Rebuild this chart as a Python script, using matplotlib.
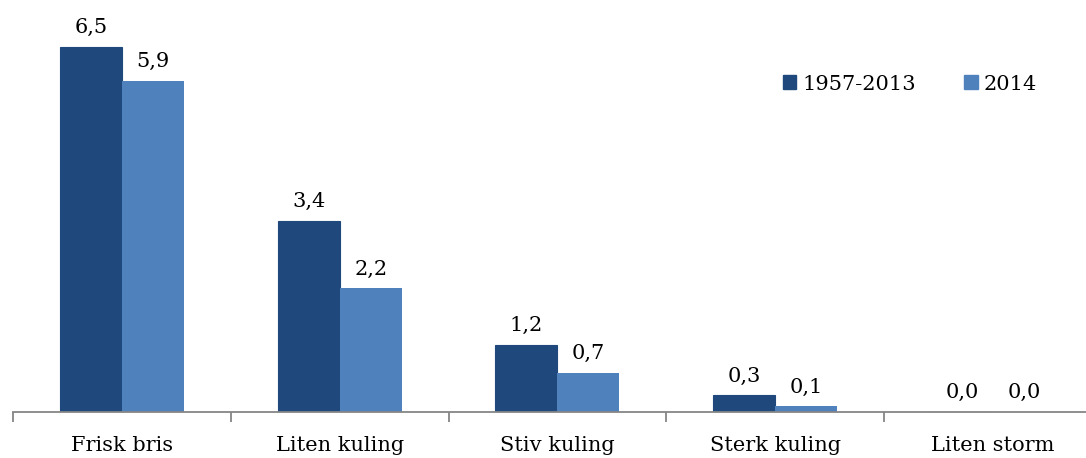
import matplotlib

matplotlib.use("Agg")

import matplotlib.pyplot as plt
import numpy as np
from matplotlib.patches import Patch

categories = ["Frisk bris", "Liten kuling", "Stiv kuling", "Sterk kuling", "Liten storm"]
series_names = ["1957-2013", "2014"]
avg_1957_2013 = [6.5, 3.4, 1.2, 0.3, 0.0]
year_2014 = [5.9, 2.2, 0.7, 0.1, 0.0]

DARK = "#1F497D"
LIGHT = "#4F81BD"
AXIS_GREY = "#868686"
FS = 15

plt.rcParams["font.family"] = ["DejaVu Serif"]

W, H = 1086, 458
fig = plt.figure(figsize=(W / 100, H / 100), dpi=100)
ax = fig.add_axes([13 / W, 46 / H, 5 * 217.75 / W, 7.0 * 56.15 / H])

x = np.arange(len(categories))
bar_w = 62 / 217.75
ax.bar(x - bar_w / 2, avg_1957_2013, width=bar_w, color=DARK, edgecolor=DARK,
       linewidth=0.8, label=series_names[0])
ax.bar(x + bar_w / 2, year_2014, width=bar_w, color=LIGHT, label=series_names[1])

for xs, vals in ((x - bar_w / 2, avg_1957_2013), (x + bar_w / 2, year_2014)):
    for xi, v in zip(xs, vals):
        ax.annotate(f"{v:.1f}".replace(".", ","), (xi, v), xytext=(0, 7),
                    textcoords="offset points", ha="center", va="bottom", fontsize=FS)

ax.set_xlim(-0.5, len(categories) - 0.5)
ax.set_ylim(0, 7.0)
ax.set_xticks(x)
ax.set_xticklabels(categories, fontsize=FS)
ax.set_xticks(np.arange(len(categories) + 1) - 0.5, minor=True)
ax.tick_params(axis="x", which="major", length=0, pad=17)
ax.tick_params(axis="x", which="minor", length=7, color=AXIS_GREY, width=1.3)
ax.set_yticks([])
for side in ("top", "right", "left"):
    ax.spines[side].set_visible(False)
ax.spines["bottom"].set_color(AXIS_GREY)
ax.spines["bottom"].set_linewidth(1.3)

handles = [Patch(color=DARK), Patch(color=LIGHT)]
fig.legend(handles, series_names, loc="center left", bbox_to_anchor=(764 / W, 1 - 84 / H),
           ncol=2, frameon=False, fontsize=FS, handlelength=0.65, handleheight=0.65,
           handletextpad=0.3, columnspacing=2.3)

fig.savefig("out.png", dpi=100)
